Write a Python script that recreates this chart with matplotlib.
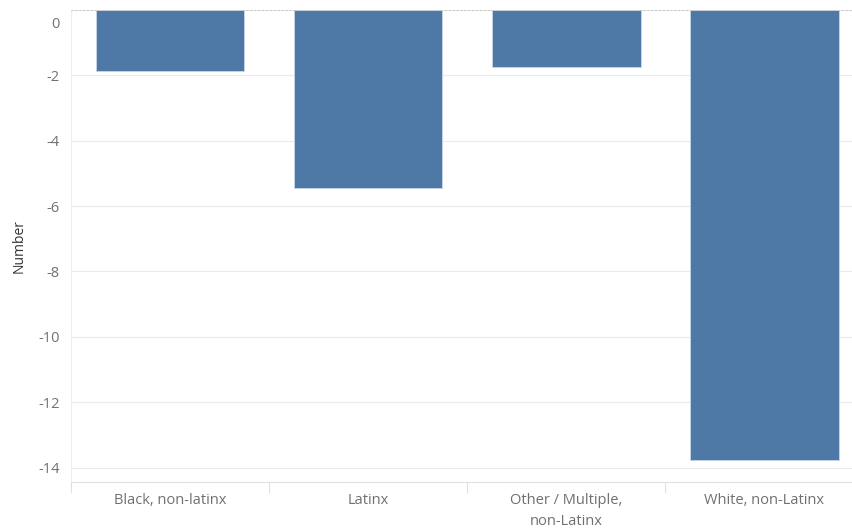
import matplotlib
matplotlib.use("Agg")
import matplotlib.pyplot as plt
import matplotlib.transforms as mtransforms

categories = ["Black, non-latinx", "Latinx", "Other / Multiple,\nnon-Latinx", "White, non-Latinx"]
values = [-1.87, -5.45, -1.74, -13.77]
yticks = [0, -2, -4, -6, -8, -10, -12, -14]

plt.rcParams['font.family'] = ['Open Sans', 'DejaVu Sans']

fig = plt.figure(figsize=(8.52, 5.31), dpi=100)
ax = fig.add_axes([71 / 852, 1 - 482 / 531, (863.5 - 71) / 852, (482 - 10) / 531])

x = list(range(len(categories)))
ax.bar(x, values, width=0.75, color="#4e79a7", edgecolor="#c9d6e6", linewidth=0.6, zorder=3)

ax.set_xlim(-0.5, len(categories) - 0.5)
ax.set_ylim(-14.44, 0)
ax.set_yticks(yticks)
ax.set_yticklabels([str(v) for v in yticks])
ax.yaxis.grid(True, color="#ebebeb", linewidth=0.8, zorder=0)
ax.axhline(0, color="#c8c8c8", linewidth=0.8, linestyle=(0, (2, 1.5)), zorder=4)

ax.set_xticks(x)
ax.set_xticklabels(categories, linespacing=1.55)
ax.tick_params(axis="x", length=0, pad=8, labelsize=10.5, labelcolor="#707070")
ax.tick_params(axis="y", length=0, pad=8, labelsize=10.5, labelcolor="#707070")

# small separators between categories on the x axis
for b in [-0.5, 0.5, 1.5, 2.5]:
    ax.plot([b, b], [-14.44, -14.75], color="#e0e0e0", linewidth=0.8, clip_on=False)

for s in ["top", "right"]:
    ax.spines[s].set_visible(False)
ax.spines["left"].set_color("#eeeeee")
ax.spines["bottom"].set_color("#e0e0e0")
ax.spines["left"].set_linewidth(0.8)
ax.spines["bottom"].set_linewidth(0.8)

# tableau pushes the top label inside the pane
lab0 = ax.get_yticklabels()[0]
lab0.set_transform(lab0.get_transform() + mtransforms.ScaledTranslation(0, -13 / 100, fig.dpi_scale_trans))

ax.set_ylabel("Number", fontsize=10, color="#333333")
ax.yaxis.set_label_coords(-44 / 792.5, 0.5)

fig.savefig("out.png", dpi=100)
